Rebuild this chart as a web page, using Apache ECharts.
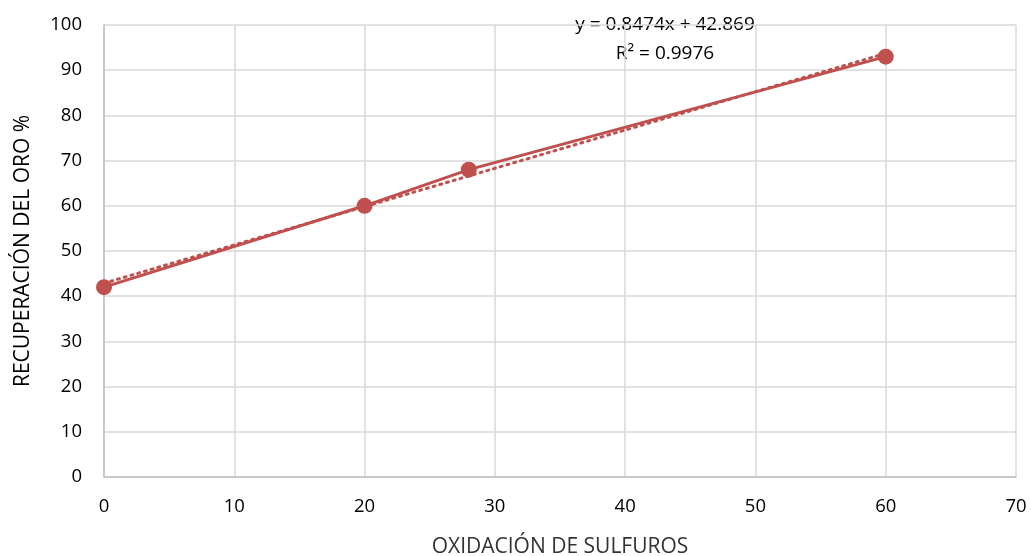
<!DOCTYPE html>
<html>
<head>
<meta charset="utf-8">
<script src="https://cdn.jsdelivr.net/npm/echarts@6/dist/echarts.min.js"></script>
<style>
  html, body { margin: 0; padding: 0; background: #fff; }
  #chart { width: 1031px; height: 556px; }
</style>
</head>
<body>
<div id="chart"></div>
<script>
// datos
var oxidacion = [0, 20, 28, 60];
var recuperacion = [42, 60, 68, 93];
// linea de tendencia (Excel)
var trendSlope = 0.8474;
var trendIntercept = 42.869;
var trendX = [0, 60];
var eqLines = ['y = 0.8474x + 42.869', 'R² = 0.9976'];

var puntos = oxidacion.map(function (x, i) { return [x, recuperacion[i]]; });
var tendencia = trendX.map(function (x) { return [x, trendSlope * x + trendIntercept]; });

var rojo = '#C0504D';
var fuente = 'Open Sans';

var option = {
  animation: false,
  grid: { left: 104, right: 15, top: 25, bottom: 79, containLabel: false, outerBoundsMode: 'none' },
  xAxis: {
    type: 'value', min: 0, max: 70, interval: 10,
    name: 'OXIDACIÓN DE SULFUROS', nameLocation: 'middle', nameGap: 60,
    nameTextStyle: { color: '#333', fontSize: 21, fontFamily: fuente },
    axisLine: { show: true, lineStyle: { color: '#bfbfbf', width: 1.5 } },
    axisTick: { show: false },
    axisLabel: { color: '#000', fontSize: 18.5, fontFamily: fuente, margin: 20 },
    splitLine: { show: true, lineStyle: { color: '#d9d9d9', width: 1.5 } }
  },
  yAxis: {
    type: 'value', min: 0, max: 100, interval: 10,
    name: 'RECUPERACIÓN DEL ORO %', nameLocation: 'middle', nameGap: 70,
    nameTextStyle: { color: '#000', fontSize: 21, fontFamily: fuente },
    axisLine: { show: true, lineStyle: { color: '#bfbfbf', width: 1.5 } },
    axisTick: { show: false },
    axisLabel: { color: '#000', fontSize: 18.5, fontFamily: fuente, margin: 22 },
    splitLine: { show: true, lineStyle: { color: '#d9d9d9', width: 1.5 } }
  },
  graphic: [{
    type: 'text', x: 665, y: 39,
    style: {
      text: eqLines.join('\n'), fill: '#000', font: '19px ' + fuente,
      align: 'center', verticalAlign: 'middle', lineHeight: 29
    }
  }],
  series: [
    {
      name: 'tendencia', type: 'line', data: tendencia, symbol: 'none', z: 2,
      lineStyle: { color: rojo, width: 3, type: [2, 5], cap: 'round' }
    },
    {
      name: 'datos', type: 'line', data: puntos, symbol: 'circle', symbolSize: 16, z: 3,
      itemStyle: { color: rojo },
      lineStyle: { color: rojo, width: 3 }
    }
  ]
};

var chart = echarts.init(document.getElementById('chart'));
chart.setOption(option);
</script>
</body>
</html>
